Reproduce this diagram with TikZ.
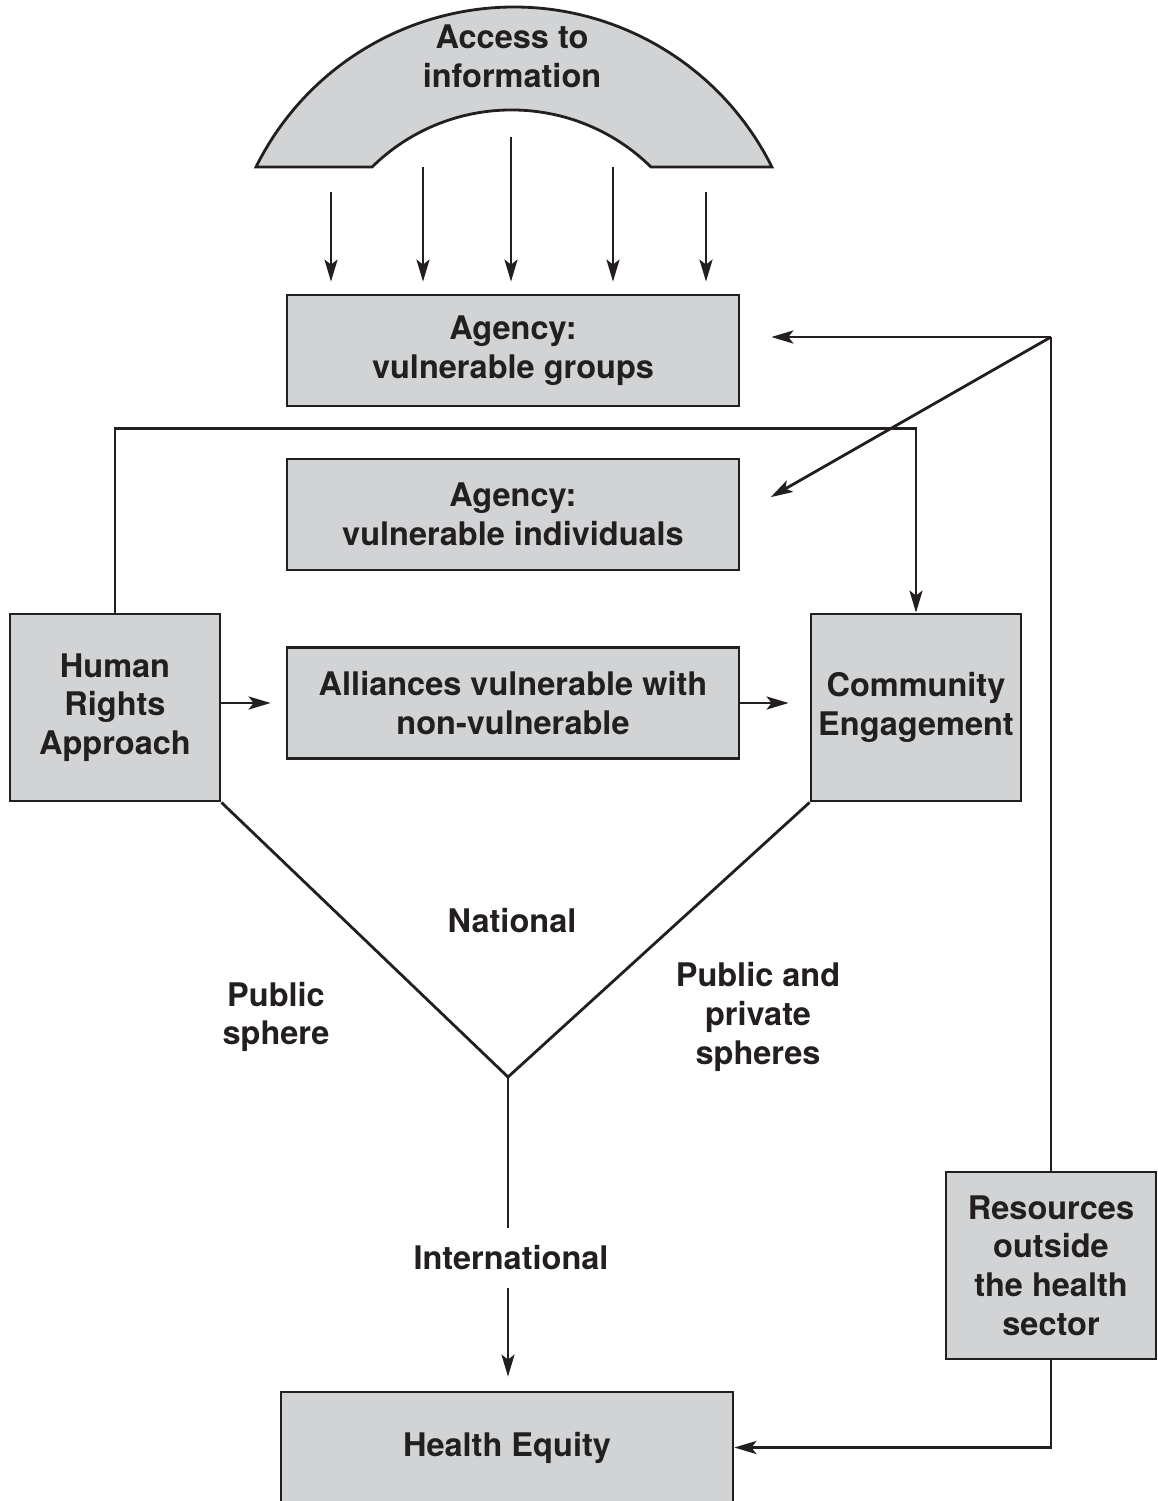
\documentclass[tikz,border=0pt]{standalone}
\usepackage{fontspec}
\setmainfont{TeX Gyre Heros}
\usetikzlibrary{arrows.meta,positioning,calc}
\definecolor{panel}{HTML}{D1D3D4}
\definecolor{ink}{HTML}{231F20}

\begin{document}
\begin{tikzpicture}[x=0.02cm, y=0.02cm,
  wide/.style={draw=ink, fill=panel, line width=1.6pt, minimum width=9.04cm, minimum height=2.22cm, align=center, text=ink, font=\bfseries\fontsize{18.5}{22}\selectfont},
  side/.style={wide, minimum width=4.2cm, minimum height=3.74cm},
  lbl/.style={align=center, text=ink, font=\bfseries\fontsize{18.5}{22}\selectfont},
  link/.style={draw=ink, line width=1.6pt},
  flow/.style={link, -{Stealth[length=0.44cm, width=0.26cm, inset=0.1cm]}}
]
  \useasboundingbox (0,0) rectangle (1158,-1501);
  % arch
  \draw[link, fill=panel] (256,-167) arc[start angle=153.6, end angle=26.4, radius=288] -- (651,-167) arc[start angle=45.5, end angle=134.5, radius=199] -- cycle;
  \node[lbl] (arch) at (512,-56) {Access to\\information};
  % boxes
  \node[wide] (grp) at (513,-350.5) {Agency:\\vulnerable groups};
  \node[wide] (ind) at (513,-514.5) {Agency:\\vulnerable individuals};
  \node[wide] (all) at (513,-703) {Alliances vulnerable with\\non-vulnerable};
  \node[side] (hra) at (115,-707.5) {Human\\Rights\\Approach};
  \node[side] (com) at (916,-707.5) {Community\\Engagement};
  \node[side] (res) at (1051,-1265.5) {Resources\\outside\\the health\\sector};
  \node[wide] (he) at (507,-1447.5) {Health Equity};
  % labels
  \node[lbl] (nat) at (512,-921) {National};
  \node[lbl] (pub) at (276,-1017) {Public\\sphere};
  \node[lbl] (pp) at (758,-1017) {Public and\\private\\spheres};
  \node[lbl, inner ysep=10pt] (intl) at (511,-1258) {International};
  % rays from the arch
  \foreach \x/\y [count=\i] in {331/192, 423/167, 511/137, 613/167, 706/192}{
    \coordinate (ray\i) at (\x,-\y);
    \draw[flow, shorten >=0.24cm] (ray\i) -- (ray\i |- grp.north);
  }
  % connectors
  \coordinate (hub) at (1051,-337);
  \coordinate (apex) at (508,-1077);
  \draw[link] (res.north) -- (hub);
  \draw[flow, shorten >=0.62cm] (hub) -- (grp.east |- hub);
  \draw[flow, shorten >=0.7cm] (hub) -- (ind.east);
  \draw[flow] (res.south) |- (he.east);
  \draw[flow] (hra.north) -- ++(0,184) -| (com.north);
  \draw[flow, shorten >=0.3cm] (hra.east |- all) -- (all);
  \draw[flow, shorten >=0.42cm] (all) -- (com.west |- all);
  \draw[link] (hra.south east) -- (apex) -- (com.south west);
  \draw[link] (apex) -- (apex |- intl.north);
  \draw[flow, shorten >=0.28cm] (apex |- intl.south) -- (apex |- he.north);
\end{tikzpicture}
\end{document}
